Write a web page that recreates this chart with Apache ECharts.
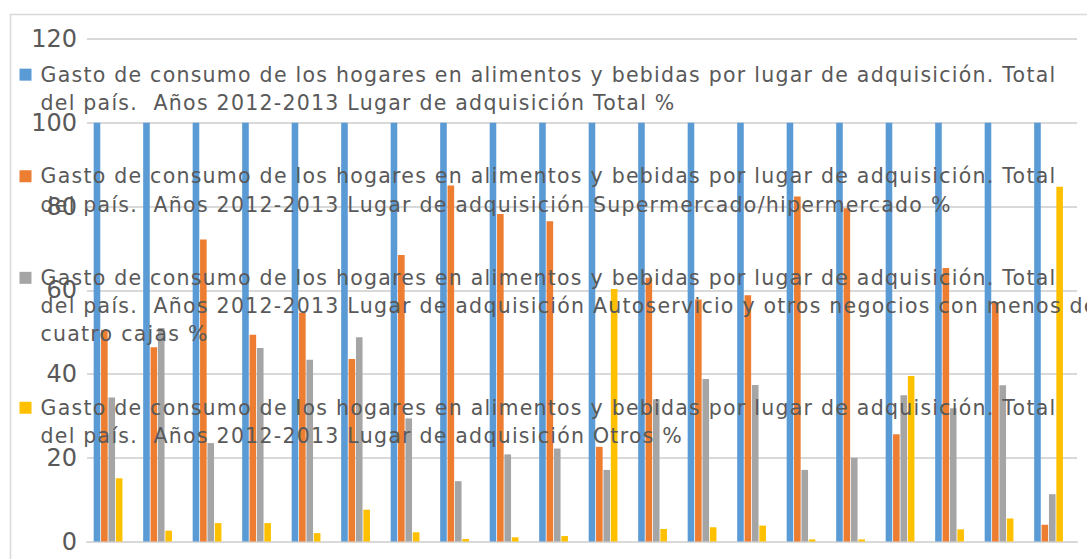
<!DOCTYPE html>
<html>
<head>
<meta charset="utf-8">
<script src="https://cdn.jsdelivr.net/npm/echarts@6/dist/echarts.min.js"></script>
<style>
  html, body { margin: 0; padding: 0; background: #fff; }
  #chart { width: 1087px; height: 559px; }
  /* the original legend text is loosely spaced */
  #chart text[style*="20.5px"] { letter-spacing: 1.25px; }
</style>
</head>
<body>
<div id="chart"></div>
<script>
const categories = ["1", "2", "3", "4", "5", "6", "7", "8", "9", "10",
  "11", "12", "13", "14", "15", "16", "17", "18", "19", "20"];

const prefix = "Gasto de consumo de los hogares en alimentos y bebidas por lugar de adquisición. Total del país.  Años 2012-2013 Lugar de adquisición ";
const seriesNames = [
  prefix + "Total %",
  prefix + "Supermercado/hipermercado %",
  prefix + "Autoservicio y otros negocios con menos de cuatro cajas %",
  prefix + "Otros %"
];

const total = [100, 100, 100, 100, 100, 100, 100, 100, 100, 100,
  100, 100, 100, 100, 100, 100, 100, 100, 100, 100];
const superHiper = [50.5, 46.4, 72.1, 49.4, 54.6, 43.6, 68.4, 85.0, 78.2, 76.5,
  22.6, 63.0, 57.8, 58.8, 82.4, 79.6, 25.6, 65.3, 57.2, 4.0];
const autoservicio = [34.4, 51.0, 23.5, 46.2, 43.4, 48.8, 29.4, 14.4, 20.8, 22.2,
  17.1, 34.0, 38.8, 37.4, 17.1, 20.0, 34.9, 31.8, 37.3, 11.3];
const otros = [15.1, 2.6, 4.4, 4.4, 2.0, 7.6, 2.2, 0.6, 1.0, 1.3,
  60.3, 3.0, 3.4, 3.8, 0.5, 0.5, 39.5, 2.9, 5.5, 84.7];

const yTicks = { min: 0, max: 120, interval: 20 };
const colors = ["#5B9BD5", "#ED7D31", "#A5A5A5", "#FFC000"];
const values = [total, superHiper, autoservicio, otros];

const textColor = "#595959";
const lineH = 28.3;

const rich = { gp: { width: 9, height: 12, lineHeight: lineH }, ind: { width: 21, height: 12, lineHeight: lineH } };
colors.forEach((c, i) => {
  rich["sq" + i] = { width: 12, height: 12, backgroundColor: c, lineHeight: lineH };
});

const chart = echarts.init(document.getElementById("chart"), null, { renderer: "svg" });

const series = values.map((v, i) => ({
  name: seriesNames[i],
  type: "bar",
  data: v,
  barWidth: 6.6,
  barGap: "12%",
  itemStyle: { color: colors[i] },
}));
// empty fifth slot keeps the groups shifted like the original
series.push({ name: "_pad", type: "bar", data: [], barWidth: 6.6, barGap: "12%" });

chart.setOption({
  animation: false,
  textStyle: { fontFamily: "DejaVu Sans" },
  graphic: [{
    type: "rect",
    left: 8, top: 12,
    shape: { width: 1100, height: 560 },
    style: { fill: "none", stroke: "#D9D9D9", lineWidth: 1.5 },
    silent: true,
  }],
  grid: { left: 87, right: 10, top: 39, bottom: 17.5 },
  legend: {
    orient: "vertical",
    left: 14.5,
    top: 60.5,
    padding: 0,
    itemGap: 45,
    itemWidth: 0,
    itemHeight: 0,
    icon: "none",
    selectedMode: false,
    data: seriesNames,
    formatter: (name) => {
      const i = seriesNames.indexOf(name);
      const txt = name
        .replace("Total del país.", "Total\n{ind|}del país.")
        .replace("menos de cuatro", "menos de\n{ind|}cuatro");
      return "{sq" + i + "|}{gp|}" + txt;
    },
    textStyle: {
      color: textColor,
      fontSize: 20.5,
      lineHeight: lineH,
      fontFamily: "DejaVu Sans",
      rich: rich,
    },
  },
  xAxis: {
    type: "category",
    data: categories,
    axisLine: { lineStyle: { color: "#D9D9D9", width: 2 } },
    axisTick: { show: false },
    axisLabel: { show: false },
  },
  yAxis: {
    type: "value",
    min: yTicks.min,
    max: yTicks.max,
    interval: yTicks.interval,
    axisLine: { show: false },
    axisTick: { show: false },
    axisLabel: { color: textColor, fontSize: 24, margin: 10, fontFamily: "DejaVu Sans" },
    splitLine: { lineStyle: { color: "#D9D9D9", width: 2 } },
  },
  series: series,
});
</script>
</body>
</html>
